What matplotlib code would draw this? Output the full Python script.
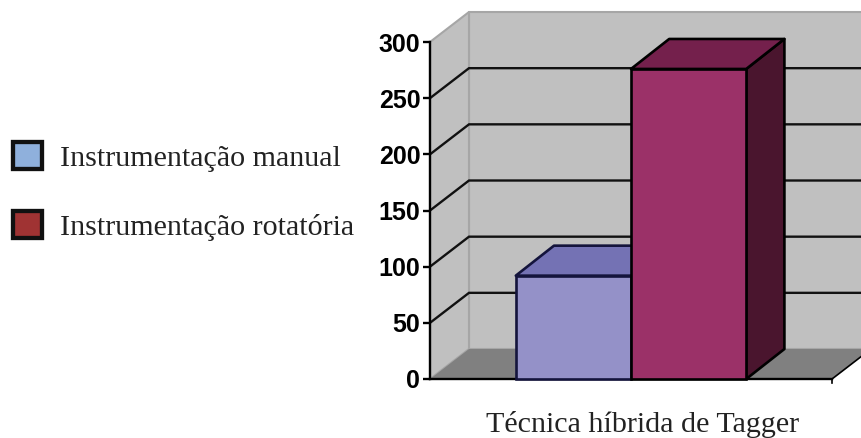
import matplotlib
matplotlib.use('Agg')
import matplotlib.pyplot as plt
from matplotlib.patches import Polygon, Patch

series_names = ['Instrumentação manual', 'Instrumentação rotatória']
series_values = [92, 276]
y_ticks = [0, 50, 100, 150, 200, 250, 300]
category = 'Técnica híbrida de Tagger'

# depth of the fake 3d box, in data units
dx = 0.097
dy = 26.7
bar_dx = 0.095
bar_w = 0.2866

fig = plt.figure(figsize=(8.62, 4.38), dpi=100)
ax = fig.add_axes([430 / 862, 1 - 379 / 438, 402 / 862, 337 / 438])
ax.set_xlim(0, 1)
ax.set_ylim(0, 300)


def poly(pts, fc, ec='none', lw=0, z=1):
    ax.add_patch(Polygon(pts, closed=True, facecolor=fc, edgecolor=ec, linewidth=lw,
                         zorder=z, clip_on=False, joinstyle='round'))


# walls and floor
poly([(dx, dy), (1 + dx, dy), (1 + dx, 300 + dy), (dx, 300 + dy)], '#c0c0c0', '#a6a6a6', 1.5)
poly([(0, 0), (dx, dy), (dx, 300 + dy), (0, 300)], '#c0c0c0', '#a6a6a6', 1.5)
poly([(0, 0), (dx, dy), (1 + dx, dy), (1, 0)], '#808080')

for t in y_ticks[1:-1]:
    ax.plot([0, dx, 1 + dx], [t, t + dy, t + dy], color='#111111', lw=1.7, zorder=2,
            clip_on=False, solid_joinstyle='miter')

ax.set_xticks([])
ax.plot([1, 1], [-4, 0], color='black', lw=1.2, clip_on=False, zorder=2)
ax.plot([1, 1 + dx], [0, dy], color='black', lw=1.2, clip_on=False, zorder=2)

# bars
x_left = [0.5 - bar_w, 0.5]
front = ['#9491c8', '#9b3168']
top = ['#7472b4', '#74204c']
side = ['#5a5890', '#4a152e']
edges = ['#14143c', '#000000']
for i in range(2):
    x0 = x_left[i]
    x1 = x0 + bar_w
    h = series_values[i]
    poly([(x1, 0), (x1 + bar_dx, dy), (x1 + bar_dx, h + dy), (x1, h)], side[i], edges[i], 1.9, 3 + i)
    poly([(x0, h), (x0 + bar_dx, h + dy), (x1 + bar_dx, h + dy), (x1, h)], top[i], edges[i], 1.9, 3 + i)
    ax.bar(x0, h, width=bar_w, align='edge', color=front[i], edgecolor=edges[i], linewidth=1.9,
           zorder=3 + i, clip_on=False)

for s in ['top', 'right']:
    ax.spines[s].set_visible(False)
ax.spines['left'].set_linewidth(1.7)
ax.spines['bottom'].set_linewidth(1.7)
ax.spines['left'].set_zorder(6)
ax.spines['bottom'].set_zorder(2.5)

ax.set_yticks(y_ticks)
ax.tick_params(axis='y', length=5, width=1.7, pad=2, labelsize=18)
for lab in ax.get_yticklabels():
    lab.set_fontfamily('Liberation Sans')
    lab.set_fontweight('bold')

fig.text(642.5 / 862, 1 - 424.5 / 438, category, family='Liberation Serif', fontsize=21.6,
         color='#222222', ha='center', va='center')

handles = [Patch(facecolor='#8fb0dc', edgecolor='#111111', linewidth=3.1),
           Patch(facecolor='#a03333', edgecolor='#111111', linewidth=3.1)]
fig.legend(handles, series_names, loc='center left', bbox_to_anchor=(13.5 / 862, 1 - 191.5 / 438),
           frameon=False, prop={'family': 'Liberation Serif', 'size': 21.6}, labelcolor='#222222',
           handlelength=0.95, handleheight=0.98, handletextpad=0.6, labelspacing=1.32,
           borderaxespad=0, borderpad=0)

fig.savefig('out.png', dpi=100)
